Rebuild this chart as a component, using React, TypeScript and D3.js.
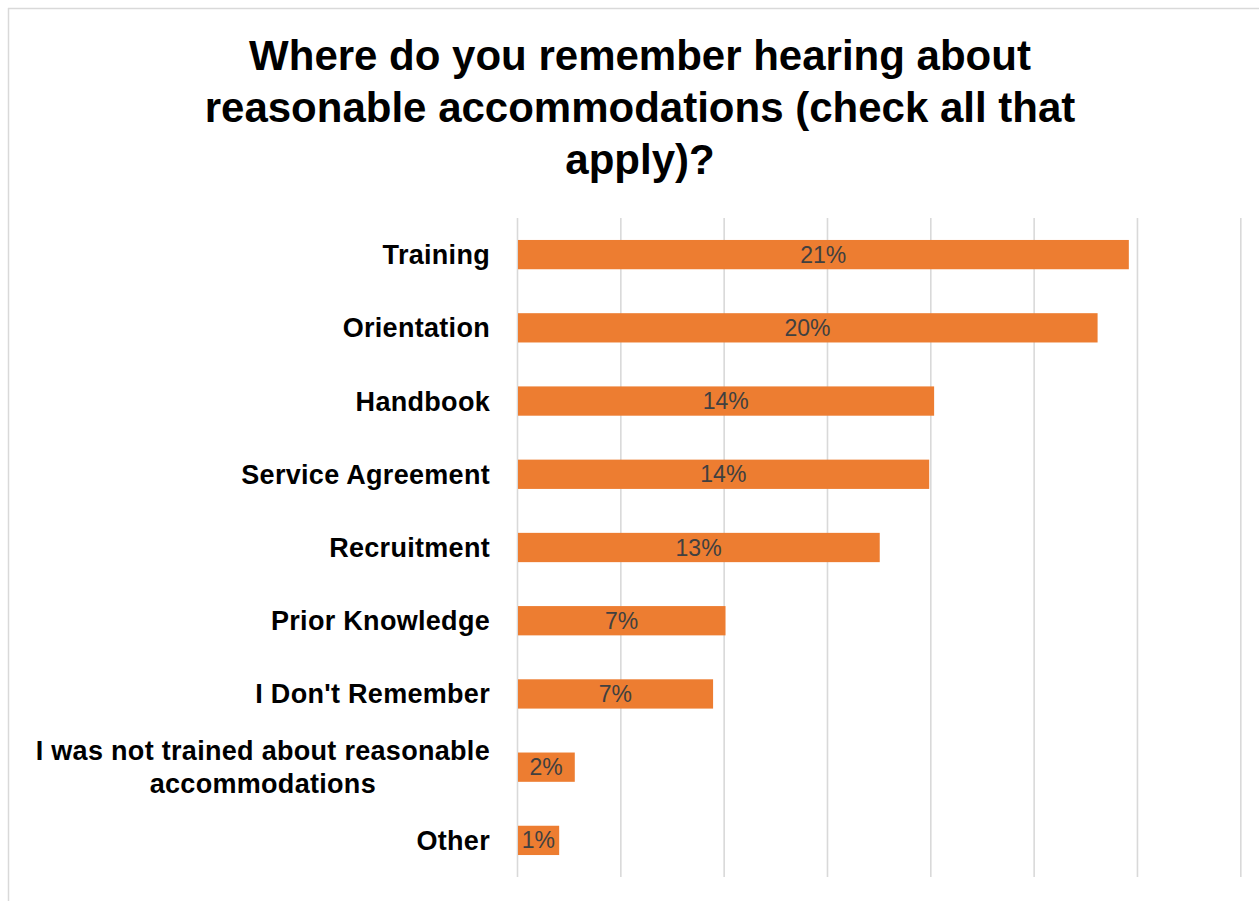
import React, { useEffect, useRef } from "react";
import * as d3 from "d3";

const categories = [
  "Training",
  "Orientation",
  "Handbook",
  "Service Agreement",
  "Recruitment",
  "Prior Knowledge",
  "I Don't Remember",
  "I was not trained about reasonable accommodations",
  "Other",
];
const values = [0.2113, 0.2005, 0.144, 0.1423, 0.1252, 0.0719, 0.0676, 0.0198, 0.0144];
const titleLines = [
  "Where do you remember hearing about",
  "reasonable accommodations (check all that",
  "apply)?",
];
const wrappedLabels: Record<string, string[]> = {
  "I was not trained about reasonable accommodations": [
    "I was not trained about reasonable",
    "accommodations",
  ],
};
const axisMax = 0.25;
const gridCount = 7;

const W = 1259;
const H = 901;
const FONT = "'Liberation Sans', Arial, sans-serif";

export default function App() {
  const ref = useRef<SVGSVGElement>(null);
  useEffect(() => {
    const svg = d3.select(ref.current);
    svg.selectAll("*").remove();

    svg.append("rect").attr("x", 0).attr("y", 0).attr("width", W).attr("height", H).attr("fill", "#fff");
    svg.append("line").attr("x1", 8.5).attr("x2", 8.5).attr("y1", 8).attr("y2", H).attr("stroke", "#d9d9d9").attr("stroke-width", 1.5);
    svg.append("line").attr("x1", 8).attr("x2", W).attr("y1", 8.5).attr("y2", 8.5).attr("stroke", "#d9d9d9").attr("stroke-width", 1.5);

    const plot = { left: 517.5, right: 1240.8, top: 218, bottom: 877 };
    const x = d3.scaleLinear().domain([0, axisMax]).range([plot.left, plot.right]);
    const y = d3.scaleBand<string>().domain(categories).range([plot.top, plot.bottom]).paddingInner(0.6).paddingOuter(0.3);

    const ticks = d3.range(gridCount + 1).map((i) => (axisMax / gridCount) * i);
    svg.append("g").selectAll("line").data(ticks).join("line")
      .attr("x1", (d) => x(d)).attr("x2", (d) => x(d))
      .attr("y1", plot.top).attr("y2", plot.bottom)
      .attr("stroke", "#d9d9d9").attr("stroke-width", 1.6);

    svg.append("g").selectAll("rect").data(categories).join("rect")
      .attr("x", x(0) + 0.5)
      .attr("y", (d) => y(d)!)
      .attr("width", (d, i) => x(values[i]) - x(0) - 0.5)
      .attr("height", y.bandwidth())
      .attr("fill", "#ED7D31");

    const fmt = d3.format(".0%");
    svg.append("g").selectAll("text").data(categories).join("text")
      .attr("x", (d, i) => (x(0) + x(values[i])) / 2)
      .attr("y", (d) => y(d)! + y.bandwidth() / 2)
      .attr("dy", "0.35em")
      .attr("text-anchor", "middle")
      .attr("font-family", FONT)
      .attr("font-size", 23)
      .attr("fill", "#404040")
      .text((d, i) => fmt(values[i]));

    const labelX = 490;
    const lg = svg.append("g").attr("font-family", FONT).attr("font-weight", "bold").attr("font-size", 27).attr("letter-spacing", 0.3).attr("fill", "#000");
    categories.forEach((c) => {
      const cy = y(c)! + y.bandwidth() / 2;
      const lines = wrappedLabels[c] || [c];
      if (lines.length === 1) {
        lg.append("text").attr("x", labelX).attr("y", cy).attr("dy", "0.35em").attr("text-anchor", "end").text(c);
      } else {
        const probe = lg.append("text").text(lines[0]);
        const maxW = (probe.node() as SVGTextElement).getComputedTextLength();
        probe.remove();
        const midX = labelX - maxW / 2;
        const lh = 33;
        lines.forEach((l, k) => {
          lg.append("text").attr("x", midX).attr("y", cy + (k - (lines.length - 1) / 2) * lh).attr("dy", "0.35em").attr("text-anchor", "middle").text(l);
        });
      }
    });

    const tg = svg.append("g").attr("font-family", FONT).attr("font-weight", "bold").attr("font-size", 42).attr("fill", "#000");
    titleLines.forEach((t, i) => {
      tg.append("text").attr("x", 640).attr("y", 70 + i * 52).attr("text-anchor", "middle").text(t);
    });
  }, []);

  return <svg ref={ref} width={W} height={H} style={{ position: "absolute", left: 0, top: 0 }} />;
}
